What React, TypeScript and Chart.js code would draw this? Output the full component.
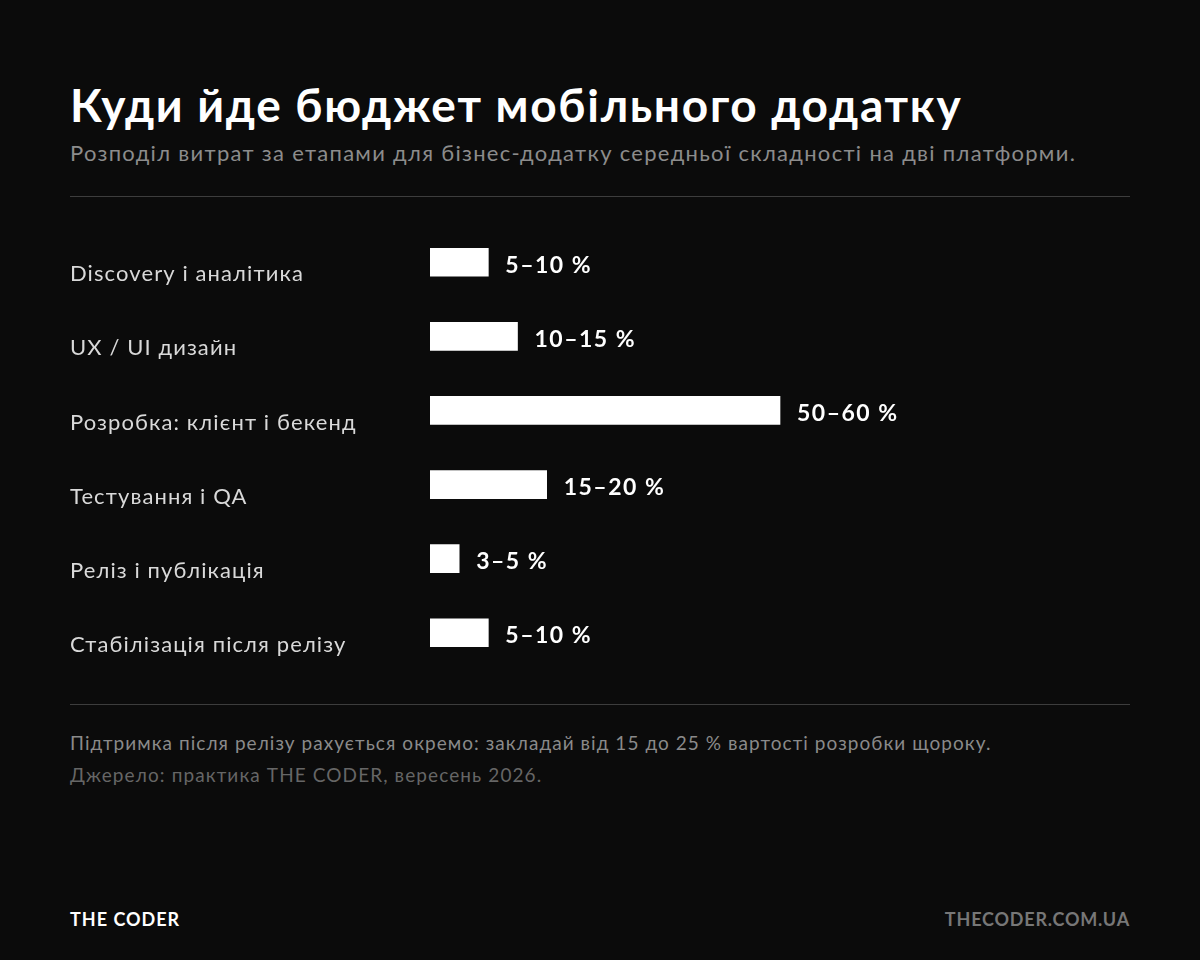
import React, { useEffect, useRef } from "react";
import { Chart, registerables } from "chart.js";

Chart.register(...registerables);

const categories = [
  "Discovery і аналітика",
  "UX / UI дизайн",
  "Розробка: клієнт і бекенд",
  "Тестування і QA",
  "Реліз і публікація",
  "Стабілізація після релізу",
];
const upperValues = [10, 15, 60, 20, 5, 10];
const rangeLabels = ["5–10 %", "10–15 %", "50–60 %", "15–20 %", "3–5 %", "5–10 %"];

const FONT = "Lato, 'Noto Sans', sans-serif";

const spacingPlugin = {
  id: "spacing",
  beforeDraw(chart: any) {
    (chart.ctx as any).letterSpacing = "1.1px";
  },
};

const valueLabelPlugin = {
  id: "valueLabels",
  afterDatasetsDraw(chart: any) {
    const ctx = chart.ctx;
    const meta = chart.getDatasetMeta(0);
    ctx.save();
    (ctx as any).letterSpacing = "1.5px";
    ctx.fillStyle = "#ffffff";
    ctx.font = `700 23px ${FONT}`;
    ctx.textAlign = "left";
    ctx.textBaseline = "middle";
    meta.data.forEach((bar: any, i: number) => {
      ctx.fillText(rangeLabels[i], bar.x + 17, bar.y + 3);
    });
    ctx.restore();
  },
};

export default function App() {
  const ref = useRef<HTMLCanvasElement | null>(null);

  useEffect(() => {
    document.body.style.margin = "0";
    document.body.style.background = "#0b0b0b";
    if (!ref.current) return;
    const chart = new Chart(ref.current, {
      type: "bar",
      data: {
        labels: categories,
        datasets: [
          {
            data: upperValues,
            backgroundColor: "#ffffff",
            borderWidth: 0,
            barThickness: 28,
          },
        ],
      },
      options: {
        indexAxis: "y",
        animation: false,
        responsive: false,
        maintainAspectRatio: false,
        layout: { padding: 0 },
        plugins: { legend: { display: false }, tooltip: { enabled: false } },
        scales: {
          x: { display: false, min: 0, max: 120 },
          y: {
            grid: { display: false },
            border: { display: false },
            afterFit(scale: any) {
              scale.width = 360;
            },
            ticks: {
              crossAlign: "far",
              labelOffset: 12,
              color: "#d9d9d9",
              font: { family: FONT, size: 22, weight: "400" },
            },
          },
        },
      },
      plugins: [spacingPlugin, valueLabelPlugin],
    });
    return () => chart.destroy();
  }, []);

  const abs = (s: React.CSSProperties): React.CSSProperties => ({ position: "absolute", ...s });

  return (
    <div
      style={{
        position: "relative",
        width: 1200,
        height: 960,
        background: "#0b0b0b",
        fontFamily: FONT,
        overflow: "hidden",
      }}
    >
      <div style={abs({ left: 70, top: 79, fontSize: 46, fontWeight: 700, color: "#ffffff", lineHeight: "52px", whiteSpace: "nowrap", letterSpacing: "1.7px" })}>
        Куди йде бюджет мобільного додатку
      </div>
      <div style={abs({ left: 70, top: 138, fontSize: 22, color: "#8c8c8c", lineHeight: "30px", whiteSpace: "nowrap", letterSpacing: "1.3px" })}>
        Розподіл витрат за етапами для бізнес-додатку середньої складності на дві платформи.
      </div>
      <div style={abs({ left: 70, top: 196, width: 1060, height: 1, background: "#3d3d3d" })} />
      <canvas
        ref={ref}
        width={1060}
        height={477}
        style={{ position: "absolute", left: 70, top: 209, width: 1060, height: 477 }}
      />
      <div style={abs({ left: 70, top: 704, width: 1060, height: 1, background: "#3d3d3d" })} />
      <div style={abs({ left: 70, top: 730, fontSize: 19, color: "#8a8a8a", lineHeight: "26px", whiteSpace: "nowrap", letterSpacing: "1.05px" })}>
        Підтримка після релізу рахується окремо: закладай від 15 до 25 % вартості розробки щороку.
      </div>
      <div style={abs({ left: 70, top: 762, fontSize: 19, color: "#666666", lineHeight: "26px", whiteSpace: "nowrap", letterSpacing: "1.1px" })}>
        Джерело: практика THE CODER, вересень 2026.
      </div>
      <div style={abs({ left: 70, top: 907, fontSize: 18, fontWeight: 700, color: "#ffffff", lineHeight: "24px", letterSpacing: "1px" })}>
        THE CODER
      </div>
      <div style={abs({ right: 70, top: 907, fontSize: 18, fontWeight: 700, color: "#777777", lineHeight: "24px", letterSpacing: "0.8px" })}>
        THECODER.COM.UA
      </div>
    </div>
  );
}
